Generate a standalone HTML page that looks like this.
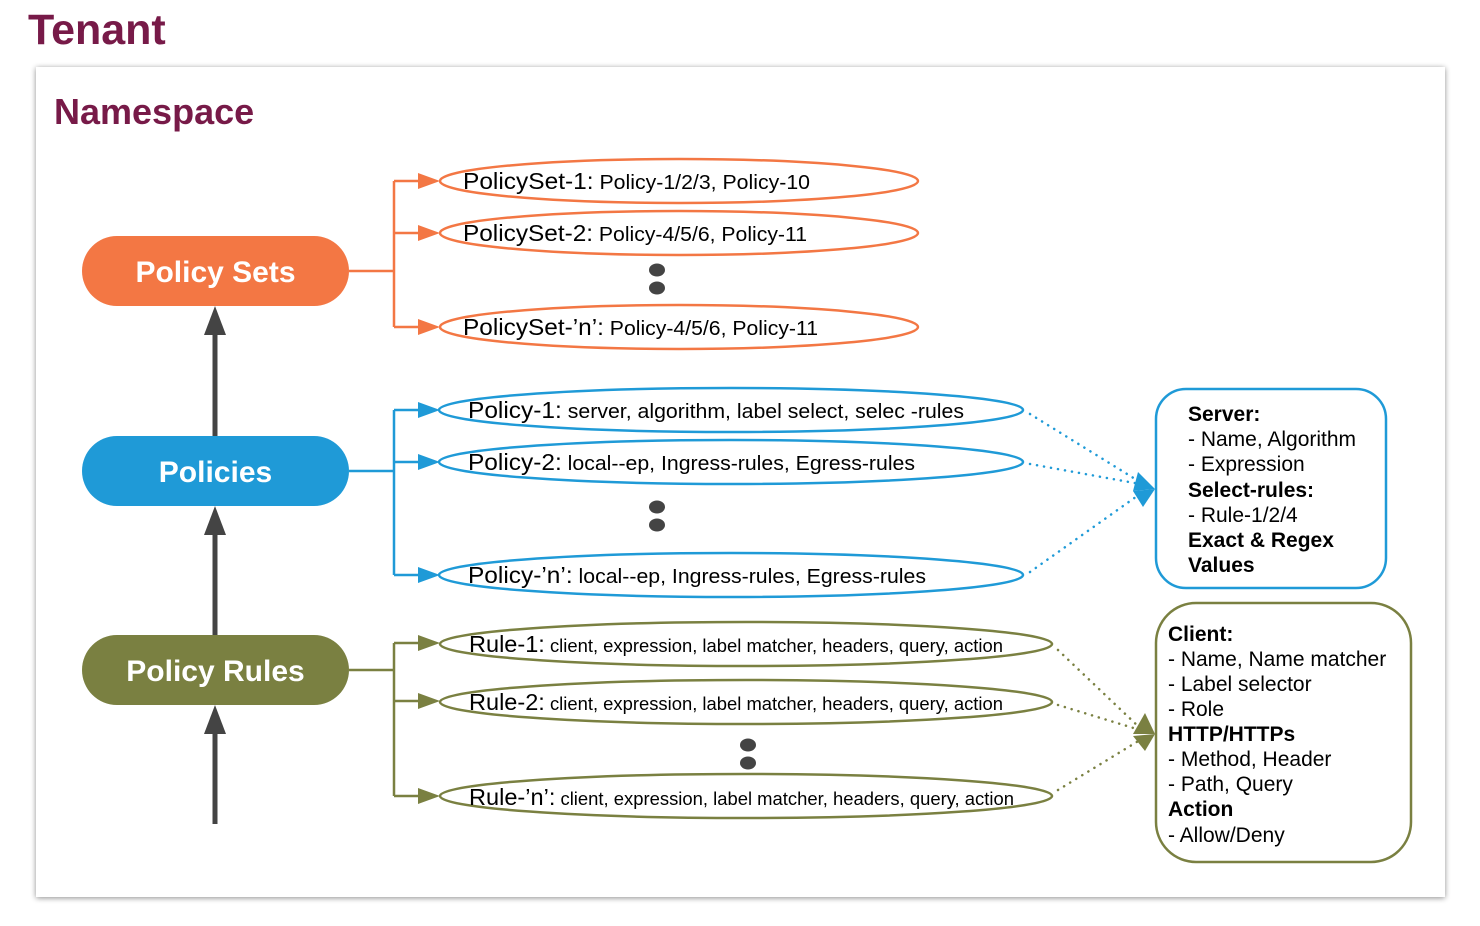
<!DOCTYPE html>
<html><head><meta charset="utf-8"><style>
html,body{margin:0;padding:0;background:#fff;}
svg{display:block;font-family:"Liberation Sans",Arial,sans-serif;}
</style></head><body>
<svg width="1480" height="926" viewBox="0 0 1480 926" xmlns="http://www.w3.org/2000/svg">
<defs>
<filter id="sh" x="-5%" y="-5%" width="110%" height="110%"><feGaussianBlur in="SourceAlpha" stdDeviation="3"/><feOffset dx="0" dy="1"/><feComponentTransfer><feFuncA type="linear" slope="0.45"/></feComponentTransfer><feMerge><feMergeNode/><feMergeNode in="SourceGraphic"/></feMerge></filter>
</defs>
<text x="28" y="44" font-size="43" font-weight="bold" fill="#771A48">Tenant</text>
<rect x="36" y="67" width="1409" height="830" fill="#fff" filter="url(#sh)"/>
<text x="54" y="124" font-size="36" font-weight="bold" fill="#771A48">Namespace</text>

<g stroke="#444" stroke-width="5" fill="#444">
<line x1="215" y1="437" x2="215" y2="330"/>
<line x1="215" y1="636" x2="215" y2="530"/>
<line x1="215" y1="824" x2="215" y2="730"/>
</g>
<g fill="#444">
<polygon points="215,306 204,335 226,335"/>
<polygon points="215,506 204,535 226,535"/>
<polygon points="215,705 204,734 226,734"/>
</g>

<rect x="82" y="236" width="267" height="70" rx="35" fill="#F37744"/>
<text x="215.5" y="282" font-size="30" font-weight="bold" fill="#fff" text-anchor="middle">Policy Sets</text>
<rect x="82" y="436" width="267" height="70" rx="35" fill="#1F9AD7"/>
<text x="215.5" y="482" font-size="30" font-weight="bold" fill="#fff" text-anchor="middle">Policies</text>
<rect x="82" y="635" width="267" height="70" rx="35" fill="#7A8041"/>
<text x="215.5" y="681" font-size="30" font-weight="bold" fill="#fff" text-anchor="middle">Policy Rules</text>

<g stroke="#F37744" stroke-width="2.5" fill="none">
<path d="M349 271 H394 M394 181 V327 M394 181 H420 M394 233 H420 M394 327 H420"/>
<ellipse cx="679" cy="181" rx="239" ry="22"/>
<ellipse cx="679" cy="233" rx="239" ry="22"/>
<ellipse cx="679" cy="327" rx="239" ry="22"/>
</g>
<g fill="#F37744">
<polygon points="418,173 440,181 418,189"/>
<polygon points="418,225 440,233 418,241"/>
<polygon points="418,319 440,327 418,335"/>
</g>
<g font-size="20" fill="#000">
<text x="463" y="189" textLength="347" lengthAdjust="spacingAndGlyphs"><tspan font-size="23">PolicySet-1:</tspan> Policy-1/2/3, Policy-10</text>
<text x="463" y="241" textLength="344" lengthAdjust="spacingAndGlyphs"><tspan font-size="23">PolicySet-2:</tspan> Policy-4/5/6, Policy-11</text>
<text x="463" y="335" textLength="355" lengthAdjust="spacingAndGlyphs"><tspan font-size="23">PolicySet-’n’:</tspan> Policy-4/5/6, Policy-11</text>
</g>
<g fill="#444">
<ellipse cx="657" cy="270" rx="8" ry="6.5"/><ellipse cx="657" cy="288" rx="8" ry="6.5"/>
<ellipse cx="657" cy="507" rx="8" ry="6.5"/><ellipse cx="657" cy="525" rx="8" ry="6.5"/>
<ellipse cx="748" cy="745" rx="8" ry="6.5"/><ellipse cx="748" cy="763" rx="8" ry="6.5"/>
</g>

<g stroke="#1F9AD7" stroke-width="2.5" fill="none">
<path d="M349 471 H394 M394 410 V575 M394 410 H420 M394 462 H420 M394 575 H420"/>
<ellipse cx="731" cy="410" rx="292" ry="22"/>
<ellipse cx="731" cy="462" rx="292" ry="22"/>
<ellipse cx="731" cy="575" rx="292" ry="22"/>
<rect x="1156" y="389" width="230" height="199" rx="30"/>
</g>
<path d="M1030 414 L1140 482 M1030 464 L1140 484 M1030 572 L1140 494" stroke="#1F9AD7" stroke-width="2.5" fill="none" stroke-dasharray="0.1 7" stroke-linecap="round"/>
<g fill="#1F9AD7">
<polygon points="418,402 440,410 418,418"/>
<polygon points="418,454 440,462 418,470"/>
<polygon points="418,567 440,575 418,583"/>
<polygon points="1155,489 1138,472 1133,491"/>
<polygon points="1155,489 1133,491 1143,507"/>
</g>
<g font-size="20" fill="#000">
<text x="468" y="418" textLength="496" lengthAdjust="spacingAndGlyphs"><tspan font-size="23">Policy-1:</tspan> server, algorithm, label select, selec -rules</text>
<text x="468" y="470" textLength="447" lengthAdjust="spacingAndGlyphs"><tspan font-size="23">Policy-2:</tspan> local--ep, Ingress-rules, Egress-rules</text>
<text x="468" y="583" textLength="458" lengthAdjust="spacingAndGlyphs"><tspan font-size="23">Policy-’n’:</tspan> local--ep, Ingress-rules, Egress-rules</text>
</g>
<g font-size="21" fill="#000">
<text x="1188" y="421" font-weight="bold">Server:</text>
<text x="1188" y="446">- Name, Algorithm</text>
<text x="1188" y="471">- Expression</text>
<text x="1188" y="497" font-weight="bold">Select-rules:</text>
<text x="1188" y="522">- Rule-1/2/4</text>
<text x="1188" y="547" font-weight="bold">Exact &amp; Regex</text>
<text x="1188" y="572" font-weight="bold">Values</text>
</g>

<g stroke="#7A8041" stroke-width="2.5" fill="none">
<path d="M349 670 H394 M394 643 V796 M394 643 H420 M394 701 H420 M394 796 H420"/>
<ellipse cx="746" cy="644" rx="306" ry="22"/>
<ellipse cx="746" cy="702" rx="306" ry="22"/>
<ellipse cx="746" cy="796" rx="306" ry="22"/>
<rect x="1156" y="603" width="255" height="259" rx="40"/>
</g>
<path d="M1058 650 L1140 728 M1058 705 L1140 730 M1058 790 L1140 740" stroke="#7A8041" stroke-width="2.5" fill="none" stroke-dasharray="0.1 7" stroke-linecap="round"/>
<g fill="#7A8041">
<polygon points="418,635 440,643 418,651"/>
<polygon points="418,693 440,701 418,709"/>
<polygon points="418,788 440,796 418,804"/>
<polygon points="1155,734 1145,713 1133,734"/>
<polygon points="1155,734 1133,736 1145,751"/>
</g>
<g font-size="18" fill="#000">
<text x="469" y="652" textLength="534" lengthAdjust="spacingAndGlyphs"><tspan font-size="23">Rule-1:</tspan> client, expression, label matcher, headers, query, action</text>
<text x="469" y="710" textLength="534" lengthAdjust="spacingAndGlyphs"><tspan font-size="23">Rule-2:</tspan> client, expression, label matcher, headers, query, action</text>
<text x="469" y="805" textLength="545" lengthAdjust="spacingAndGlyphs"><tspan font-size="23">Rule-’n’:</tspan> client, expression, label matcher, headers, query, action</text>
</g>
<g font-size="21" fill="#000">
<text x="1168" y="641" font-weight="bold">Client:</text>
<text x="1168" y="666">- Name, Name matcher</text>
<text x="1168" y="691">- Label selector</text>
<text x="1168" y="716">- Role</text>
<text x="1168" y="741" font-weight="bold">HTTP/HTTPs</text>
<text x="1168" y="766">- Method, Header</text>
<text x="1168" y="791">- Path, Query</text>
<text x="1168" y="816" font-weight="bold">Action</text>
<text x="1168" y="842">- Allow/Deny</text>
</g>
</svg>
</body></html>
